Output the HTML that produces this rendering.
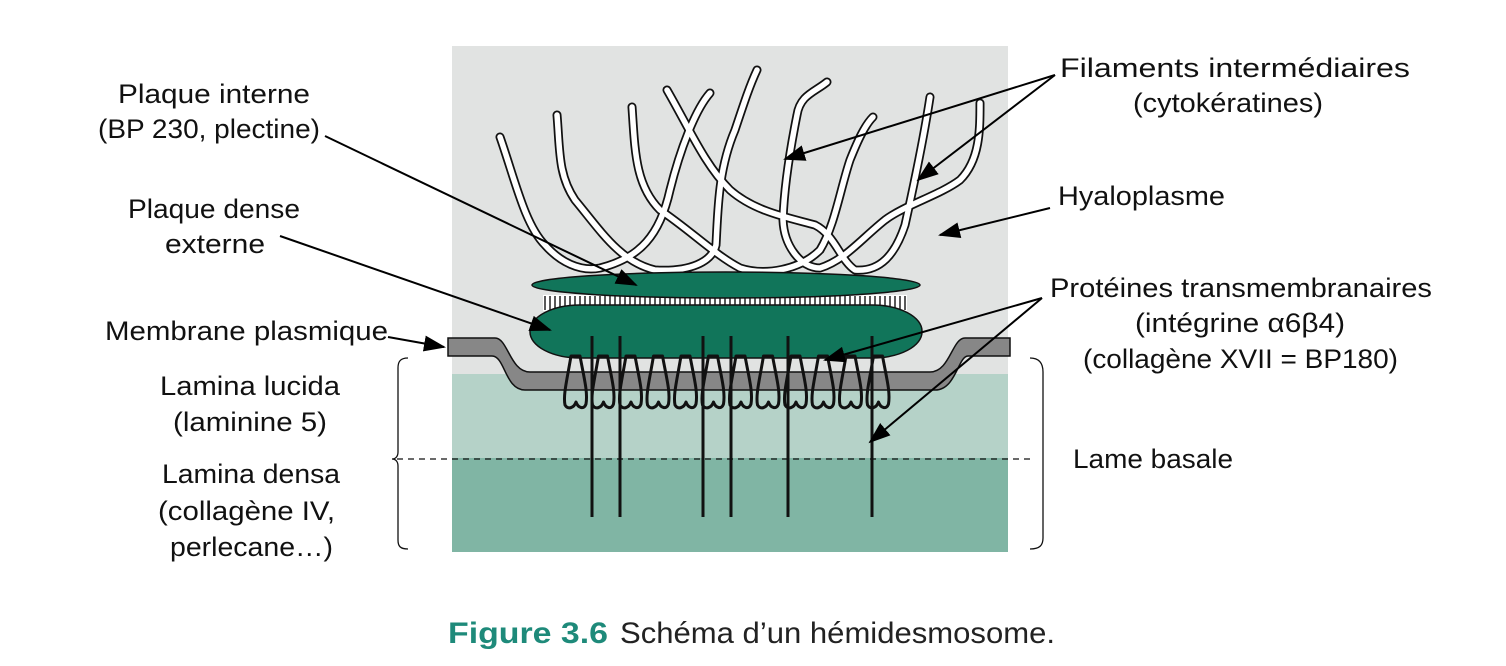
<!DOCTYPE html>
<html><head><meta charset="utf-8"><style>
html,body{margin:0;padding:0;background:#fff;}
svg{display:block}
text{font-family:"Liberation Sans",sans-serif;font-size:27px;fill:#111}
</style></head><body>
<svg width="1506" height="666" viewBox="0 0 1506 666" xmlns="http://www.w3.org/2000/svg">
<defs>
<marker id="ah2" markerWidth="22" markerHeight="16" refX="20" refY="8" orient="auto" markerUnits="userSpaceOnUse" viewBox="0 0 22 16">
<path d="M0,0 L22,8 L0,16 Z" fill="#000"/></marker>
</defs>
<rect x="452" y="46" width="556" height="330" fill="#e1e3e2"/>
<rect x="452" y="374" width="556" height="86" fill="#b5d2c8"/>
<rect x="452" y="458" width="556" height="94" fill="#80b5a4"/>
<g fill="none" stroke-linecap="round" stroke-linejoin="round">
<g stroke="#111" stroke-width="9">
<path d="M500,137 C515,180 525,225 545,245 C560,262 580,272 600,268 C640,258 660,235 670,190 C680,150 695,110 710,93"/>
<path d="M557,115 C560,150 558,175 575,200 C600,230 620,262 655,270 C690,272 712,262 716,245 C718,210 718,170 735,130 C745,100 750,85 757,70"/>
<path d="M632,107 C635,150 635,185 660,210 C690,230 715,255 740,268 C765,276 800,270 820,250 C835,225 840,190 850,160 C858,140 865,125 873,117"/>
<path d="M667,90 C690,130 705,165 730,190 C755,212 790,218 815,225 C835,235 840,260 855,270 C880,272 895,255 905,225 C915,180 925,130 930,97"/>
<path d="M827,82 C815,92 800,95 797,115 C790,150 784,190 783,220 C784,245 800,268 820,268 C845,260 860,240 885,220 C905,205 940,195 960,180 C980,160 980,130 980,103"/>
</g>
<g stroke="#fff" stroke-width="5.5">
<path d="M500,137 C515,180 525,225 545,245 C560,262 580,272 600,268 C640,258 660,235 670,190 C680,150 695,110 710,93"/>
<path d="M557,115 C560,150 558,175 575,200 C600,230 620,262 655,270 C690,272 712,262 716,245 C718,210 718,170 735,130 C745,100 750,85 757,70"/>
<path d="M632,107 C635,150 635,185 660,210 C690,230 715,255 740,268 C765,276 800,270 820,250 C835,225 840,190 850,160 C858,140 865,125 873,117"/>
<path d="M667,90 C690,130 705,165 730,190 C755,212 790,218 815,225 C835,235 840,260 855,270 C880,272 895,255 905,225 C915,180 925,130 930,97"/>
<path d="M827,82 C815,92 800,95 797,115 C790,150 784,190 783,220 C784,245 800,268 820,268 C845,260 860,240 885,220 C905,205 940,195 960,180 C980,160 980,130 980,103"/>
</g>
</g>
<rect x="543" y="295" width="364" height="16" fill="#fff"/>
<g stroke="#222" stroke-width="1.5">
<path d="M545,296 V310 M550,296 V310 M555,296 V310 M560,296 V310 M565,296 V310 M570,296 V310 M575,296 V310 M580,296 V310 M585,296 V310 M590,296 V310 M595,296 V310 M600,296 V310 M605,296 V310 M610,296 V310 M615,296 V310 M620,296 V310 M625,296 V310 M630,296 V310 M635,296 V310 M640,296 V310 M645,296 V310 M650,296 V310 M655,296 V310 M660,296 V310 M665,296 V310 M670,296 V310 M675,296 V310 M680,296 V310 M685,296 V310 M690,296 V310 M695,296 V310 M700,296 V310 M705,296 V310 M710,296 V310 M715,296 V310 M720,296 V310 M725,296 V310 M730,296 V310 M735,296 V310 M740,296 V310 M745,296 V310 M750,296 V310 M755,296 V310 M760,296 V310 M765,296 V310 M770,296 V310 M775,296 V310 M780,296 V310 M785,296 V310 M790,296 V310 M795,296 V310 M800,296 V310 M805,296 V310 M810,296 V310 M815,296 V310 M820,296 V310 M825,296 V310 M830,296 V310 M835,296 V310 M840,296 V310 M845,296 V310 M850,296 V310 M855,296 V310 M860,296 V310 M865,296 V310 M870,296 V310 M875,296 V310 M880,296 V310 M885,296 V310 M890,296 V310 M895,296 V310 M900,296 V310 M905,296 V310"/>
</g>
<ellipse cx="726" cy="285" rx="194" ry="13" fill="#11755a" stroke="#111" stroke-width="1.5"/>
<rect x="530" y="305" width="392" height="53" rx="50" ry="26" fill="#11755a" stroke="#111" stroke-width="1.5"/>
<path d="M448,338 H495 C508,338 510,372 530,372 H930 C950,372 952,338 965,338 H1010 V356 H968 C958,356 956,390 935,390 H525 C505,390 505,356 492,356 H448 Z" fill="#878787" stroke="#111" stroke-width="1.5"/>
<g fill="none" stroke="#111" stroke-width="3" stroke-linejoin="round">
<path id="lp" d="M571,356 C567,380 563,395 565,405 C568,410 574,408 576,402 C578,408 584,410 586,404 C588,392 584,378 580,356 Z"/>
<use href="#lp" x="27.5"/><use href="#lp" x="55"/><use href="#lp" x="82.5"/><use href="#lp" x="110"/><use href="#lp" x="137.5"/>
<use href="#lp" x="165"/><use href="#lp" x="192.5"/><use href="#lp" x="220"/><use href="#lp" x="247.5"/><use href="#lp" x="275"/><use href="#lp" x="302.5"/>
</g>
<g stroke="#111" stroke-width="3">
<path d="M592,336 V517 M620,336 V517 M703,336 V517 M731,336 V517 M788,336 V517 M872,336 V517"/>
</g>
<line x1="397" y1="459" x2="1030" y2="459" stroke="#111" stroke-width="1.3" stroke-dasharray="6,5"/>
<path d="M408,358 C400,358 398,362 398,368 V452 C398,456 396,459 392,459 C396,459 398,462 398,466 V540 C398,546 400,549 408,549" fill="none" stroke="#111" stroke-width="1.3"/>
<path d="M1030,358 C1040,358 1043,364 1043,372 V538 C1043,545 1040,549 1030,549" fill="none" stroke="#111" stroke-width="1.3"/>
<g stroke="#000" stroke-width="2" fill="none">
<line x1="1055" y1="75" x2="785" y2="159" marker-end="url(#ah2)"/>
<line x1="1055" y1="75" x2="918" y2="180" marker-end="url(#ah2)"/>
<line x1="1050" y1="208" x2="940" y2="235" marker-end="url(#ah2)"/>
<line x1="325" y1="136" x2="636" y2="285" marker-end="url(#ah2)"/>
<line x1="280" y1="236" x2="550" y2="330" marker-end="url(#ah2)"/>
<path d="M388,337 L444,347" marker-end="url(#ah2)"/>
<line x1="1042" y1="298" x2="825" y2="360" marker-end="url(#ah2)"/>
<line x1="1042" y1="298" x2="870" y2="442" marker-end="url(#ah2)"/>
</g>
<text x="118" y="103" textLength="192" lengthAdjust="spacingAndGlyphs">Plaque interne</text>
<text x="98" y="138" textLength="222" lengthAdjust="spacingAndGlyphs">(BP 230, plectine)</text>
<text x="128" y="218" textLength="172" lengthAdjust="spacingAndGlyphs">Plaque dense</text>
<text x="165" y="253" textLength="100" lengthAdjust="spacingAndGlyphs">externe</text>
<text x="105" y="340" textLength="283" lengthAdjust="spacingAndGlyphs">Membrane plasmique</text>
<text x="160" y="395" textLength="180" lengthAdjust="spacingAndGlyphs">Lamina lucida</text>
<text x="173" y="431" textLength="154" lengthAdjust="spacingAndGlyphs">(laminine 5)</text>
<text x="162" y="483" textLength="178" lengthAdjust="spacingAndGlyphs">Lamina densa</text>
<text x="158" y="520" textLength="177" lengthAdjust="spacingAndGlyphs">(collagène IV,</text>
<text x="170" y="556" textLength="163" lengthAdjust="spacingAndGlyphs">perlecane…)</text>
<text x="1060" y="77" textLength="350" lengthAdjust="spacingAndGlyphs">Filaments intermédiaires</text>
<text x="1133" y="112" textLength="190" lengthAdjust="spacingAndGlyphs">(cytokératines)</text>
<text x="1058" y="205" textLength="167" lengthAdjust="spacingAndGlyphs">Hyaloplasme</text>
<text x="1050" y="297" textLength="382" lengthAdjust="spacingAndGlyphs">Protéines transmembranaires</text>
<text x="1135" y="332" textLength="210" lengthAdjust="spacingAndGlyphs">(intégrine α6β4)</text>
<text x="1083" y="368" textLength="315" lengthAdjust="spacingAndGlyphs">(collagène XVII = BP180)</text>
<text x="1073" y="468" textLength="160" lengthAdjust="spacingAndGlyphs">Lame basale</text>
<text x="448" y="643" textLength="160" lengthAdjust="spacingAndGlyphs" style="font-size:30px;font-weight:bold;fill:#1e8a7a">Figure 3.6</text>
<text x="620" y="643" textLength="435" lengthAdjust="spacingAndGlyphs" style="font-size:30px;fill:#222">Schéma d’un hémidesmosome.</text>
</svg>
</body></html>
